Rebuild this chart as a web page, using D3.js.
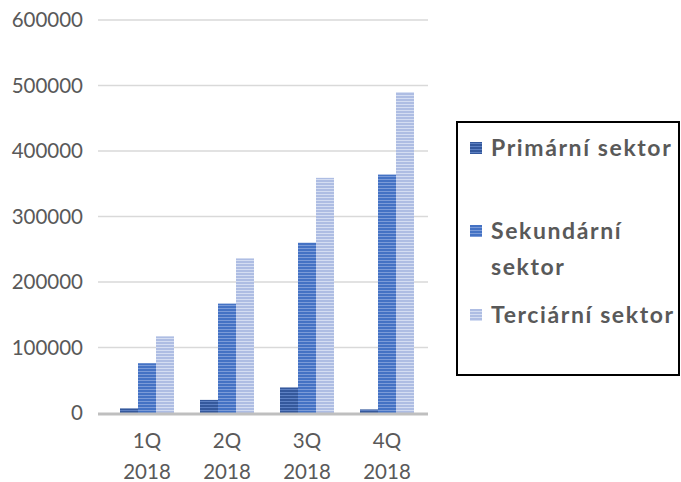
<!DOCTYPE html>
<html><head><meta charset="utf-8">
<script src="https://cdn.jsdelivr.net/npm/d3@7"></script>
<style>body{margin:0;background:#fff;}svg{display:block;}</style>
</head><body>
<svg id="c" width="681" height="482"></svg>
<script>
const categories = ["1Q 2018","2Q 2018","3Q 2018","4Q 2018"];
const seriesNames = ["Primární sektor","Sekundární sektor","Terciární sektor"];
const primary = [7000, 20000, 39000, 5500];
const secondary = [76000, 167000, 260000, 364000];
const tertiary = [117000, 236000, 359000, 490000];
const yTicks = [0,100000,200000,300000,400000,500000,600000];

const seriesValues = [primary, secondary, tertiary];
const colors = [
  {base:"#34589c", stripe:"#5d80c2"},
  {base:"#4472c4", stripe:"#7b9bd8"},
  {base:"#aebde3", stripe:"#d4ddf2"}
];

const svg = d3.select("#c");
const defs = svg.append("defs");
colors.forEach((c,i)=>{
  const p = defs.append("pattern").attr("id","pat"+i).attr("patternUnits","userSpaceOnUse")
    .attr("width",4).attr("height",3);
  p.append("rect").attr("width",4).attr("height",3).attr("fill",c.base);
  p.append("rect").attr("y",2).attr("width",4).attr("height",1).attr("fill",c.stripe);
});

const x = d3.scaleBand().domain(categories).range([107,427]).paddingInner(0.325).paddingOuter(0.1625);
const xs = d3.scaleBand().domain(d3.range(3)).range([0,x.bandwidth()]);
const y = d3.scaleLinear().domain([0,600000]).range([413,20]);

const font = "Lato, 'Open Sans', sans-serif";

// gridlines
svg.append("g").selectAll("line").data(yTicks.slice(1)).join("line")
  .attr("x1",98).attr("x2",428).attr("y1",d=>y(d)).attr("y2",d=>y(d))
  .attr("stroke","#d9d9d9").attr("stroke-width",1.5);

// y axis labels
const yAxis = d3.axisLeft(y).tickValues(yTicks).tickSize(0).tickPadding(0).tickFormat(d3.format("d"));
const ya = svg.append("g").attr("transform","translate(83,0)").call(yAxis);
ya.select(".domain").remove();
ya.selectAll("text").attr("font-family",font).attr("font-size",20.5).attr("fill","#595959");

// bars
const groups = svg.append("g").selectAll("g").data(categories).join("g")
  .attr("transform",d=>`translate(${x(d)},0)`);
groups.selectAll("rect").data((d,ci)=>seriesValues.map((s,si)=>({si, v:s[ci]}))).join("rect")
  .attr("x",d=>xs(d.si)).attr("width",xs.bandwidth())
  .attr("y",d=>y(d.v)).attr("height",d=>y(0)-y(d.v))
  .attr("fill",d=>`url(#pat${d.si})`);

// baseline
svg.append("line").attr("x1",98).attr("x2",428).attr("y1",y(0)+1).attr("y2",y(0)+1)
  .attr("stroke","#bfbfbf").attr("stroke-width",3);

// x labels
const xa = svg.append("g").selectAll("text").data(categories).join("text")
  .attr("x",d=>x(d)+x.bandwidth()/2).attr("y",448)
  .attr("text-anchor","middle").attr("font-family",font).attr("font-size",20.5).attr("fill","#595959");
xa.each(function(d){
  const parts = d.split(" ");
  d3.select(this).selectAll("tspan").data(parts).join("tspan")
    .attr("x",x(d)+x.bandwidth()/2).attr("dy",(p,i)=>i===0?0:31).text(p=>p);
});

// legend
svg.append("rect").attr("x",457).attr("y",122).attr("width",222).attr("height",253)
  .attr("fill","none").attr("stroke","#000").attr("stroke-width",2);
const legendItems = [
  {lines:["Primární sektor"], y:148},
  {lines:["Sekundární","sektor"], y:231},
  {lines:["Terciární sektor"], y:315}
];
const lg = svg.append("g").selectAll("g").data(legendItems).join("g");
lg.append("rect").attr("x",470).attr("y",d=>d.y-6).attr("width",12).attr("height",12)
  .attr("fill",(d,i)=>`url(#pat${i})`);
lg.append("text").attr("font-family",font).attr("font-size",23).attr("font-weight","bold")
  .attr("letter-spacing",1.6).attr("fill","#595959")
  .each(function(d){
    d3.select(this).selectAll("tspan").data(d.lines).join("tspan")
      .attr("x",491).attr("y",(l,i)=>d.y+8+i*36).text(l=>l);
  });
</script>
</body></html>
